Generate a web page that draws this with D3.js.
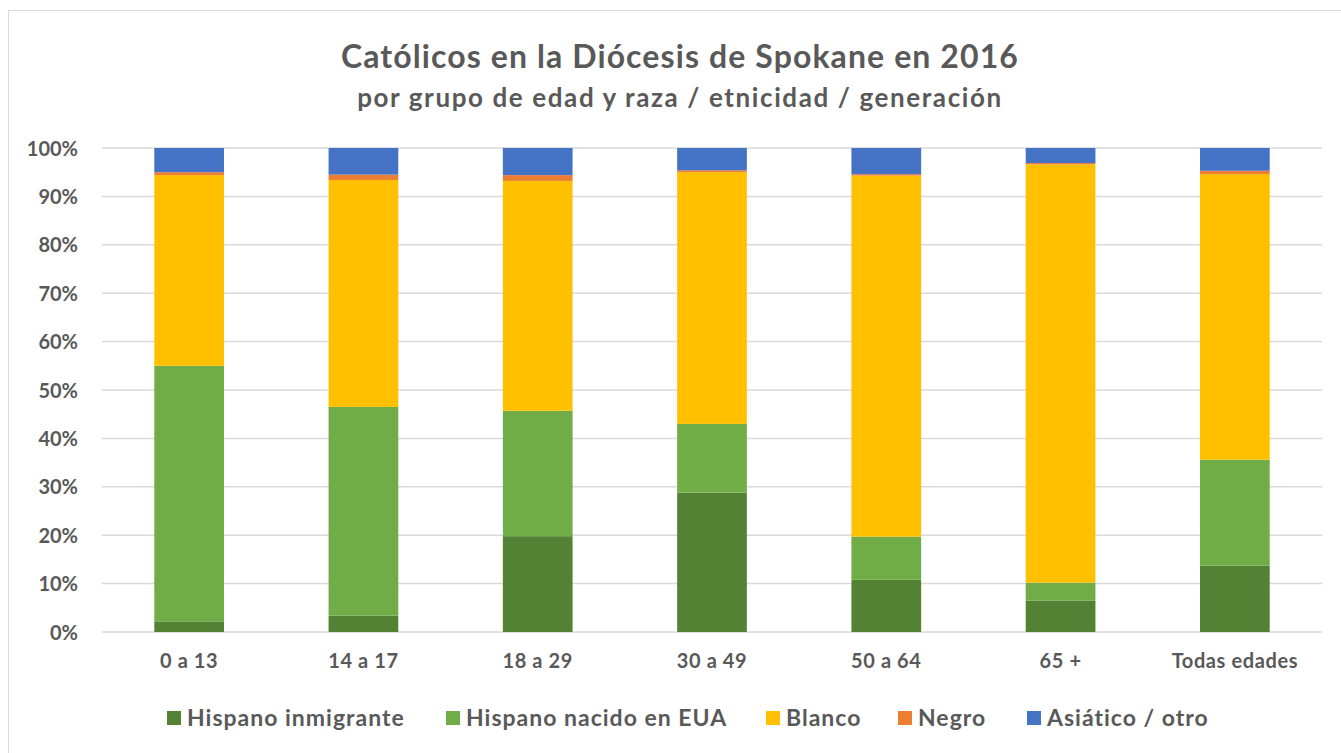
<!DOCTYPE html>
<html>
<head>
<meta charset="utf-8">
<script src="https://cdn.jsdelivr.net/npm/d3@7"></script>
<style>
  body { margin: 0; background: #fff; }
  text { font-family: Lato, "Open Sans", sans-serif; font-weight: bold; fill: #595959; }
</style>
</head>
<body>
<div id="chart"></div>
<script>
// Católicos en la Diócesis de Spokane en 2016 - stacked 100% bars

const categories = ["0 a 13", "14 a 17", "18 a 29", "30 a 49", "50 a 64", "65 +", "Todas edades"];
const seriesNames = ["Hispano inmigrante", "Hispano nacido en EUA", "Blanco", "Negro", "Asiático / otro"];
const seriesColors = ["#548235", "#70ad47", "#ffc000", "#ed7d31", "#4472c4"];

const hispanoInmigrante = [2.2, 3.4, 19.8, 28.8, 10.8, 6.5, 13.7];
const hispanoNacido = [52.8, 43.1, 25.9, 14.2, 8.9, 3.7, 21.9];
const blanco = [39.4, 46.9, 47.5, 52.0, 74.6, 86.4, 59.0];
const negro = [0.6, 1.1, 1.2, 0.4, 0.3, 0.3, 0.7];
const asiatico = [5.0, 5.5, 5.6, 4.6, 5.4, 3.1, 4.7];

const yTicks = [0, 10, 20, 30, 40, 50, 60, 70, 80, 90, 100];

const seriesValues = [hispanoInmigrante, hispanoNacido, blanco, negro, asiatico];

// build rows for d3.stack
const rows = categories.map((c, i) => {
    const r = { cat: c };
    seriesNames.forEach((s, j) => { r[s] = seriesValues[j][i]; });
    return r;
});

const W = 1341, H = 753;
const margin = { top: 148, right: 19, bottom: 121, left: 102 };
const width = W - margin.left - margin.right;
const height = H - margin.top - margin.bottom;

const svg = d3.select("#chart")
    .append("svg")
    .attr("width", W)
    .attr("height", H);

// outer chart border
svg.append("rect")
    .attr("x", 8.5)
    .attr("y", 10.5)
    .attr("width", W + 10)
    .attr("height", H + 10)
    .attr("fill", "none")
    .attr("stroke", "#d9d9d9");

// titles
svg.append("text")
    .attr("x", 680)
    .attr("y", 68)
    .attr("text-anchor", "middle")
    .style("font-size", "32px")
    .style("letter-spacing", "1.1px")
    .text("Católicos en la Diócesis de Spokane en 2016");

svg.append("text")
    .attr("x", 680)
    .attr("y", 107)
    .attr("text-anchor", "middle")
    .style("font-size", "26px")
    .style("letter-spacing", "1.6px")
    .text("por grupo de edad y raza / etnicidad / generación");

const g = svg.append("g")
    .attr("transform", "translate(" + margin.left + "," + margin.top + ")");

const x = d3.scaleBand()
    .domain(categories)
    .range([0, width])
    .paddingInner(0.6)
    .paddingOuter(0.3);

const y = d3.scaleLinear()
    .domain([0, 100])
    .range([height, 0]);

// gridlines
g.append("g")
    .selectAll("line")
    .data(yTicks)
    .enter().append("line")
    .attr("x1", 0)
    .attr("x2", width)
    .attr("y1", d => y(d))
    .attr("y2", d => y(d))
    .attr("stroke", "#d9d9d9")
    .attr("stroke-width", 1.5);

// y axis labels
const yAxis = g.append("g")
    .call(d3.axisLeft(y).tickValues(yTicks).tickFormat(d => d + "%").tickSize(0).tickPadding(24));
yAxis.select(".domain").remove();
yAxis.selectAll("text")
    .style("font-size", "20px")
    .attr("fill", "#595959")
    .attr("dy", "0.35em");

// x axis labels
const xAxis = g.append("g")
    .attr("transform", "translate(0," + height + ")")
    .call(d3.axisBottom(x).tickSize(0).tickPadding(22));
xAxis.select(".domain").remove();
xAxis.selectAll("text")
    .style("font-size", "20px")
    .style("letter-spacing", "0.6px")
    .attr("fill", "#595959");

// stacked bars
const stacked = d3.stack().keys(seriesNames)(rows);

g.selectAll(".layer")
    .data(stacked)
    .enter().append("g")
    .attr("class", "layer")
    .attr("fill", (d, i) => seriesColors[i])
    .selectAll("rect")
    .data(d => d)
    .enter().append("rect")
    .attr("x", d => x(d.data.cat))
    .attr("y", d => y(d[1]))
    .attr("width", x.bandwidth())
    .attr("height", d => y(d[0]) - y(d[1]));

// legend
const legendX = [167, 446, 766, 898, 1027];
const legend = svg.append("g")
    .selectAll("g")
    .data(seriesNames)
    .enter().append("g")
    .attr("transform", (d, i) => "translate(" + legendX[i] + ",711)");

legend.append("rect")
    .attr("width", 14)
    .attr("height", 14)
    .attr("fill", (d, i) => seriesColors[i]);

legend.append("text")
    .attr("x", 20)
    .attr("y", 15)
    .style("font-size", "23px")
    .style("letter-spacing", "1px")
    .text(d => d);
</script>
</body>
</html>
